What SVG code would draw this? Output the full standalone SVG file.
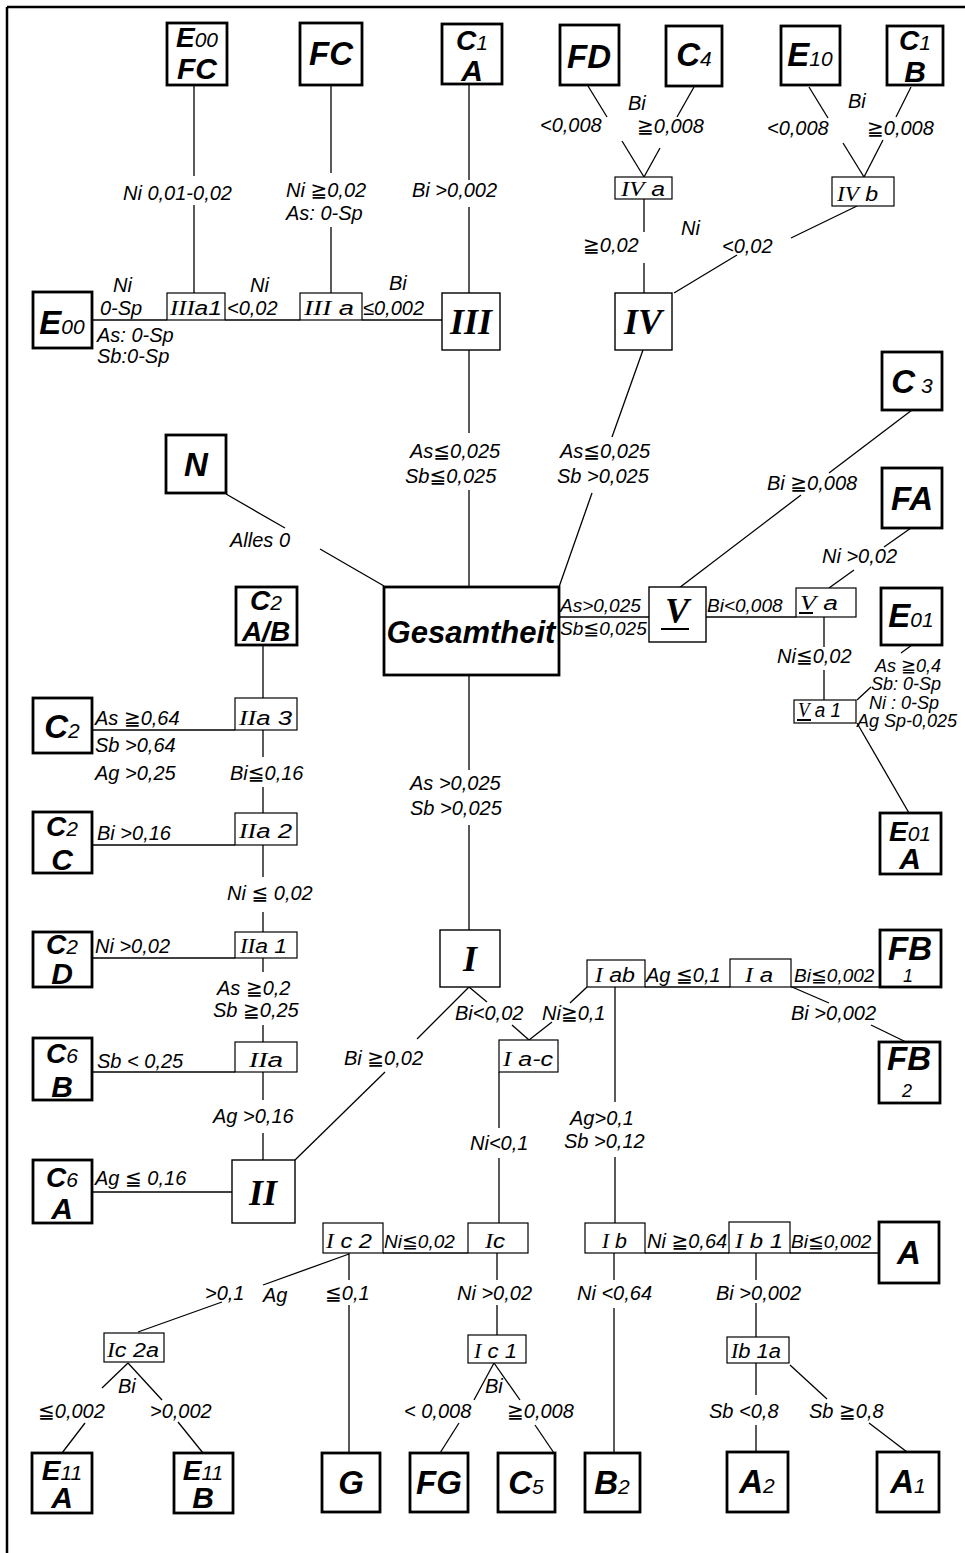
<svg xmlns="http://www.w3.org/2000/svg" width="965" height="1553" viewBox="0 0 965 1553">
<style>
.frame{stroke:#000;stroke-width:2.5;fill:none}
.t{fill:#fff;stroke:#000;stroke-width:2.8}
.m{fill:#fff;stroke:#000;stroke-width:1.4}
.s{fill:#fff;stroke:#000;stroke-width:1.2}
.c line{stroke:#000;stroke-width:1.3}
.ul{stroke:#000;stroke-width:2}
text{font-family:"Liberation Sans","DejaVu Sans",sans-serif;font-style:italic;fill:#000}
.lb{font-size:20px}
.lb2{font-size:18px}
.T1{font-size:33px;font-weight:bold;text-anchor:middle}
.T2{font-size:28px;font-weight:bold;text-anchor:middle}
.T3{font-size:30px;font-weight:bold;text-anchor:middle}
.sub{font-size:21px;font-weight:normal}
.tiny{font-size:18px;font-weight:normal}
.R{font-family:"Liberation Serif","DejaVu Serif",serif;font-weight:bold;font-size:36px;text-anchor:middle}
.G{font-size:31px;font-weight:bold;text-anchor:middle}
.sx{font-size:20px}
.r{font-family:"Liberation Serif","DejaVu Serif",serif}
</style>
<rect width="965" height="1553" fill="#fff"/>
<g id="frame">
<line class="frame" x1="7" y1="7" x2="965" y2="7"/>
<line class="frame" x1="7" y1="7" x2="7" y2="1553"/>
</g>
<g id="connectors" class="c">
<line x1="194" y1="85" x2="194" y2="176"/><line x1="194" y1="205" x2="194" y2="293"/>
<line x1="331" y1="85" x2="331" y2="173"/><line x1="331" y1="227" x2="331" y2="293"/>
<line x1="469" y1="84" x2="469" y2="180"/><line x1="469" y1="207" x2="469" y2="293"/>
<line x1="92" y1="320" x2="167" y2="320"/><line x1="225" y1="320" x2="300" y2="320"/><line x1="362" y1="320" x2="442" y2="320"/>
<line x1="588" y1="86" x2="607" y2="117"/><line x1="622" y1="141" x2="644" y2="177"/>
<line x1="694" y1="87" x2="677" y2="117"/><line x1="660" y1="148" x2="644" y2="177"/>
<line x1="809" y1="87" x2="828" y2="118"/><line x1="843" y1="143" x2="864" y2="177"/>
<line x1="911" y1="87" x2="896" y2="117"/><line x1="883" y1="140" x2="864" y2="177"/>
<line x1="644" y1="199" x2="644" y2="232"/><line x1="644" y1="263" x2="644" y2="293"/>
<line x1="857" y1="206" x2="791" y2="238"/><line x1="737" y1="255" x2="674" y2="293"/>
<line x1="469" y1="350" x2="469" y2="433"/><line x1="469" y1="490" x2="469" y2="587"/>
<line x1="643" y1="350" x2="612" y2="437"/><line x1="592" y1="493" x2="559" y2="587"/>
<line x1="226" y1="494" x2="285" y2="528"/><line x1="320" y1="549" x2="384" y2="586"/>
<line x1="559" y1="617" x2="649" y2="617"/>
<line x1="706" y1="617" x2="796" y2="617"/>
<line x1="679" y1="588" x2="801" y2="495"/><line x1="829" y1="473" x2="912" y2="410"/>
<line x1="829" y1="588" x2="854" y2="570"/><line x1="884" y1="547" x2="911" y2="528"/>
<line x1="824" y1="617" x2="824" y2="647"/><line x1="824" y1="670" x2="824" y2="700"/>
<line x1="857" y1="700" x2="871" y2="687"/><line x1="901" y1="653" x2="912" y2="645"/>
<line x1="857" y1="723" x2="909" y2="813"/>
<line x1="263" y1="645" x2="263" y2="698"/>
<line x1="92" y1="730" x2="235" y2="730"/>
<line x1="263" y1="730" x2="263" y2="757"/><line x1="263" y1="787" x2="263" y2="813"/>
<line x1="92" y1="845" x2="235" y2="845"/>
<line x1="263" y1="845" x2="263" y2="877"/><line x1="263" y1="912" x2="263" y2="932"/>
<line x1="92" y1="958" x2="235" y2="958"/>
<line x1="263" y1="958" x2="263" y2="972"/><line x1="263" y1="1025" x2="263" y2="1042"/>
<line x1="92" y1="1072" x2="235" y2="1072"/>
<line x1="263" y1="1072" x2="263" y2="1100"/><line x1="263" y1="1133" x2="263" y2="1160"/>
<line x1="92" y1="1192" x2="232" y2="1192"/>
<line x1="469" y1="675" x2="469" y2="770"/><line x1="469" y1="825" x2="469" y2="930"/>
<line x1="469" y1="987" x2="417" y2="1039"/><line x1="385" y1="1072" x2="295" y2="1160"/>
<line x1="469" y1="987" x2="487" y2="1002"/><line x1="512" y1="1025" x2="529" y2="1040"/>
<line x1="587" y1="987" x2="570" y2="1003"/><line x1="552" y1="1022" x2="529" y2="1040"/>
<line x1="645" y1="987" x2="730" y2="987"/><line x1="791" y1="987" x2="880" y2="987"/>
<line x1="792" y1="987" x2="829" y2="1003"/><line x1="871" y1="1025" x2="906" y2="1042"/>
<line x1="615" y1="987" x2="615" y2="1102"/><line x1="615" y1="1157" x2="615" y2="1223"/>
<line x1="499" y1="1072" x2="499" y2="1128"/><line x1="499" y1="1158" x2="499" y2="1223"/>
<line x1="383" y1="1253" x2="468" y2="1253"/>
<line x1="645" y1="1253" x2="729" y2="1253"/><line x1="790" y1="1253" x2="879" y2="1253"/>
<line x1="756" y1="1253" x2="756" y2="1280"/><line x1="756" y1="1303" x2="756" y2="1337"/>
<line x1="756" y1="1363" x2="756" y2="1395"/><line x1="756" y1="1425" x2="756" y2="1452"/>
<line x1="790" y1="1365" x2="827" y2="1399"/><line x1="869" y1="1423" x2="907" y2="1452"/>
<line x1="614" y1="1253" x2="614" y2="1280"/><line x1="614" y1="1308" x2="614" y2="1453"/>
<line x1="497" y1="1253" x2="497" y2="1280"/><line x1="497" y1="1305" x2="497" y2="1335"/>
<line x1="494" y1="1363" x2="474" y2="1400"/><line x1="459" y1="1423" x2="440" y2="1453"/>
<line x1="494" y1="1363" x2="520" y2="1400"/><line x1="535" y1="1425" x2="554" y2="1453"/>
<line x1="349" y1="1253" x2="349" y2="1280"/><line x1="349" y1="1305" x2="349" y2="1453"/>
<line x1="349" y1="1254" x2="263" y2="1285"/><line x1="222" y1="1302" x2="138" y2="1332"/>
<line x1="128" y1="1363" x2="102" y2="1388"/><line x1="85" y1="1423" x2="62" y2="1453"/>
<line x1="128" y1="1363" x2="162" y2="1400"/><line x1="178" y1="1422" x2="203" y2="1453"/>
</g>
<g id="edge-labels" class="lb">
<text x="123" y="200">Ni 0,01-0,02</text>
<text x="286" y="197">Ni ≧0,02</text>
<text x="286" y="220">As: 0-Sp</text>
<text x="412" y="197">Bi &gt;0,002</text>
<text x="628" y="110">Bi</text>
<text x="540" y="132">&lt;0,008</text>
<text x="637" y="133">≧0,008</text>
<text x="848" y="108">Bi</text>
<text x="767" y="135">&lt;0,008</text>
<text x="867" y="135">≧0,008</text>
<text x="583" y="252">≧0,02</text>
<text x="681" y="235">Ni</text>
<text x="722" y="253">&lt;0,02</text>
<text x="113" y="292">Ni</text>
<text x="100" y="315">0-Sp</text>
<text x="97" y="342">As: 0-Sp</text>
<text x="97" y="363">Sb:0-Sp</text>
<text x="250" y="292">Ni</text>
<text x="227" y="315">&lt;0,02</text>
<text x="389" y="290">Bi</text>
<text x="363" y="315">≤0,002</text>
<text x="410" y="458">As≦0,025</text>
<text x="405" y="483">Sb≦0,025</text>
<text x="560" y="458">As≦0,025</text>
<text x="557" y="483">Sb &gt;0,025</text>
<text x="230" y="547">Alles 0</text>
<text x="560" y="612" font-size="19">As&gt;0,025</text>
<text x="560" y="635" font-size="19">Sb≦0,025</text>
<text x="707" y="612" font-size="19">Bi&lt;0,008</text>
<text x="767" y="490">Bi ≧0,008</text>
<text x="822" y="563">Ni &gt;0,02</text>
<text x="777" y="663">Ni≦0,02</text>
<text class="lb2" x="875" y="672">As ≧0,4</text>
<text class="lb2" x="871" y="690">Sb: 0-Sp</text>
<text class="lb2" x="869" y="709">Ni : 0-Sp</text>
<text class="lb2" x="857" y="727">Ag Sp-0,025</text>
<text x="95" y="725">As ≧0,64</text>
<text x="95" y="752">Sb &gt;0,64</text>
<text x="95" y="780">Ag &gt;0,25</text>
<text x="230" y="780">Bi≦0,16</text>
<text x="97" y="840">Bi &gt;0,16</text>
<text x="227" y="900">Ni ≦ 0,02</text>
<text x="95" y="953">Ni &gt;0,02</text>
<text x="217" y="995">As ≧0,2</text>
<text x="213" y="1017">Sb ≧0,25</text>
<text x="97" y="1068">Sb &lt; 0,25</text>
<text x="213" y="1123">Ag &gt;0,16</text>
<text x="95" y="1185">Ag ≦ 0,16</text>
<text x="410" y="790">As &gt;0,025</text>
<text x="410" y="815">Sb &gt;0,025</text>
<text x="344" y="1065">Bi ≧0,02</text>
<text x="455" y="1020">Bi&lt;0,02</text>
<text x="542" y="1020">Ni≧0,1</text>
<text x="646" y="982">Ag ≦0,1</text>
<text x="794" y="982" font-size="19">Bi≦0,002</text>
<text x="791" y="1020">Bi &gt;0,002</text>
<text x="570" y="1125">Ag&gt;0,1</text>
<text x="564" y="1148">Sb &gt;0,12</text>
<text x="470" y="1150">Ni&lt;0,1</text>
<text x="384" y="1248" font-size="19">Ni≦0,02</text>
<text x="647" y="1248">Ni ≧0,64</text>
<text x="791" y="1248" font-size="19">Bi≦0,002</text>
<text x="716" y="1300">Bi &gt;0,002</text>
<text x="709" y="1418">Sb &lt;0,8</text>
<text x="809" y="1418">Sb ≧0,8</text>
<text x="577" y="1300">Ni &lt;0,64</text>
<text x="457" y="1300">Ni &gt;0,02</text>
<text x="485" y="1393">Bi</text>
<text x="404" y="1418">&lt; 0,008</text>
<text x="507" y="1418">≧0,008</text>
<text x="325" y="1300">≦0,1</text>
<text x="263" y="1302">Ag</text>
<text x="205" y="1300">&gt;0,1</text>
<text x="38" y="1418">≦0,002</text>
<text x="150" y="1418">&gt;0,002</text>
<text x="118" y="1393">Bi</text>
</g>
<g id="n-Gesamtheit"><rect class="t" x="384" y="587" width="175" height="88"/><text class="G" x="471" y="643">Gesamtheit</text></g>
<g id="n-III"><rect class="m" x="442" y="293" width="58" height="57"/><text class="R" x="471" y="334">III</text></g>
<g id="n-IV"><rect class="m" x="615" y="293" width="57" height="57"/><text class="R" x="643" y="334">IV</text></g>
<g id="n-I"><rect class="m" x="440" y="930" width="60" height="57"/><text class="R" x="470" y="971">I</text></g>
<g id="n-II"><rect class="m" x="232" y="1160" width="63" height="63"/><text class="R" x="263" y="1205">II</text></g>
<g id="n-V"><rect class="m" x="649" y="587" width="57" height="55"/><text class="R" x="677" y="623">V</text><line class="ul" x1="661" y1="629" x2="689" y2="629"/></g>
<g id="n-IIIa1"><rect class="s" x="167" y="293" width="58" height="27"/><text class="sx" x="170" y="315" textLength="52" lengthAdjust="spacingAndGlyphs"><tspan class="r">III</tspan>a1</text></g>
<g id="n-IIIa"><rect class="s" x="300" y="293" width="62" height="27"/><text class="sx" x="304" y="315" textLength="50" lengthAdjust="spacingAndGlyphs"><tspan class="r">III</tspan> a</text></g>
<g id="n-IVa"><rect class="s" x="615" y="177" width="57" height="22"/><text class="sx" x="621" y="196" textLength="44" lengthAdjust="spacingAndGlyphs"><tspan class="r">IV</tspan> a</text></g>
<g id="n-IVb"><rect class="s" x="832" y="177" width="62" height="29"/><text class="sx" x="837" y="201" textLength="41" lengthAdjust="spacingAndGlyphs"><tspan class="r">IV</tspan> b</text></g>
<g id="n-Va"><rect class="s" x="796" y="588" width="60" height="29"/><text class="sx" x="800" y="610" textLength="38" lengthAdjust="spacingAndGlyphs"><tspan class="r">V</tspan> a</text><line class="ul" x1="799" y1="613" x2="813" y2="613" stroke-width="1.5"/></g>
<g id="n-Va1"><rect class="s" x="794" y="700" width="62" height="23"/><text class="sx" x="798" y="717" textLength="43" lengthAdjust="spacingAndGlyphs"><tspan class="r">V</tspan> a 1</text><line class="ul" x1="797" y1="720" x2="811" y2="720" stroke-width="1.5"/></g>
<g id="n-IIa3"><rect class="s" x="235" y="698" width="62" height="32"/><text class="sx" x="239" y="725" textLength="53" lengthAdjust="spacingAndGlyphs"><tspan class="r">II</tspan>a 3</text></g>
<g id="n-IIa2"><rect class="s" x="235" y="813" width="62" height="32"/><text class="sx" x="239" y="838" textLength="53" lengthAdjust="spacingAndGlyphs"><tspan class="r">II</tspan>a 2</text></g>
<g id="n-IIa1"><rect class="s" x="235" y="932" width="62" height="26"/><text class="sx" x="240" y="953" textLength="47" lengthAdjust="spacingAndGlyphs"><tspan class="r">II</tspan>a 1</text></g>
<g id="n-IIa"><rect class="s" x="235" y="1042" width="62" height="30"/><text class="sx" x="249" y="1067" textLength="34" lengthAdjust="spacingAndGlyphs"><tspan class="r">II</tspan>a</text></g>
<g id="n-Iab"><rect class="s" x="587" y="960" width="58" height="27"/><text class="sx" x="595" y="982" textLength="40" lengthAdjust="spacingAndGlyphs"><tspan class="r">I</tspan> ab</text></g>
<g id="n-Ia"><rect class="s" x="730" y="959" width="61" height="28"/><text class="sx" x="745" y="982" textLength="28" lengthAdjust="spacingAndGlyphs"><tspan class="r">I</tspan> a</text></g>
<g id="n-Iac"><rect class="s" x="499" y="1040" width="59" height="32"/><text class="sx" x="503" y="1066" textLength="50" lengthAdjust="spacingAndGlyphs"><tspan class="r">I</tspan> a-c</text></g>
<g id="n-Ic2"><rect class="s" x="323" y="1223" width="60" height="30"/><text class="sx" x="326" y="1248" textLength="46" lengthAdjust="spacingAndGlyphs"><tspan class="r">I</tspan> c 2</text></g>
<g id="n-Ic"><rect class="s" x="468" y="1223" width="60" height="30"/><text class="sx" x="485" y="1248" textLength="20" lengthAdjust="spacingAndGlyphs"><tspan class="r">I</tspan>c</text></g>
<g id="n-Ib"><rect class="s" x="585" y="1223" width="60" height="30"/><text class="sx" x="602" y="1248" textLength="25" lengthAdjust="spacingAndGlyphs"><tspan class="r">I</tspan> b</text></g>
<g id="n-Ib1"><rect class="s" x="729" y="1222" width="61" height="31"/><text class="sx" x="735" y="1248" textLength="48" lengthAdjust="spacingAndGlyphs"><tspan class="r">I</tspan> b 1</text></g>
<g id="n-Ib1a"><rect class="s" x="727" y="1337" width="62" height="26"/><text class="sx" x="731" y="1358" textLength="50" lengthAdjust="spacingAndGlyphs"><tspan class="r">I</tspan>b 1a</text></g>
<g id="n-Ic1"><rect class="s" x="468" y="1335" width="58" height="28"/><text class="sx" x="474" y="1358" textLength="43" lengthAdjust="spacingAndGlyphs"><tspan class="r">I</tspan> c 1</text></g>
<g id="n-Ic2a"><rect class="s" x="104" y="1333" width="60" height="29"/><text class="sx" x="107" y="1357" textLength="52" lengthAdjust="spacingAndGlyphs"><tspan class="r">I</tspan>c 2a</text></g>
<g id="n-E00FC"><rect class="t" x="167" y="23" width="60" height="62"/><text class="T2" x="197" y="47">E<tspan class="sub">00</tspan></text><text class="T3" x="197" y="79">FC</text></g>
<g id="n-FC"><rect class="t" x="300" y="23" width="62" height="62"/><text class="T1" x="331" y="65">FC</text></g>
<g id="n-C1A"><rect class="t" x="442" y="24" width="60" height="60"/><text class="T2" x="472" y="50">C<tspan class="sub">1</tspan></text><text class="T3" x="472" y="81">A</text></g>
<g id="n-FD"><rect class="t" x="560" y="25" width="59" height="60"/><text class="T1" x="589" y="68">FD</text></g>
<g id="n-C4"><rect class="t" x="666" y="26" width="56" height="60"/><text class="T1" x="694" y="66">C<tspan class="sub">4</tspan></text></g>
<g id="n-E10"><rect class="t" x="781" y="26" width="59" height="59"/><text class="T1" x="810" y="66">E<tspan class="sub">10</tspan></text></g>
<g id="n-C1B"><rect class="t" x="887" y="26" width="56" height="59"/><text class="T2" x="915" y="50">C<tspan class="sub">1</tspan></text><text class="T3" x="915" y="82">B</text></g>
<g id="n-E00"><rect class="t" x="33" y="292" width="59" height="56"/><text class="T1" x="62" y="334">E<tspan class="sub">00</tspan></text></g>
<g id="n-N"><rect class="t" x="166" y="435" width="60" height="58"/><text class="T1" x="196" y="476">N</text></g>
<g id="n-C3"><rect class="t" x="882" y="352" width="60" height="58"/><text class="T1" x="912" y="393">C<tspan class="sub"> 3</tspan></text></g>
<g id="n-FA"><rect class="t" x="882" y="468" width="60" height="60"/><text class="T1" x="912" y="510">FA</text></g>
<g id="n-E01"><rect class="t" x="881" y="588" width="61" height="57"/><text class="T1" x="911" y="627">E<tspan class="sub">01</tspan></text></g>
<g id="n-E01A"><rect class="t" x="880" y="813" width="61" height="61"/><text class="T2" x="910" y="841">E<tspan class="sub">01</tspan></text><text class="T3" x="910" y="869">A</text></g>
<g id="n-C2AB"><rect class="t" x="236" y="587" width="61" height="58"/><text class="T2" x="266" y="610" font-size="25">C<tspan class="sub" font-size="19">2</tspan></text><text class="T2" x="266" y="641" font-size="24">A/B</text></g>
<g id="n-C2"><rect class="t" x="33" y="698" width="59" height="55"/><text class="T1" x="62" y="738">C<tspan class="sub">2</tspan></text></g>
<g id="n-C2C"><rect class="t" x="33" y="812" width="59" height="61"/><text class="T2" x="62" y="836">C<tspan class="sub">2</tspan></text><text class="T3" x="62" y="870">C</text></g>
<g id="n-C2D"><rect class="t" x="33" y="932" width="59" height="55"/><text class="T2" x="62" y="954">C<tspan class="sub">2</tspan></text><text class="T3" x="62" y="984">D</text></g>
<g id="n-C6B"><rect class="t" x="33" y="1038" width="59" height="62"/><text class="T2" x="62" y="1063">C<tspan class="sub">6</tspan></text><text class="T3" x="62" y="1097">B</text></g>
<g id="n-C6A"><rect class="t" x="33" y="1160" width="59" height="63"/><text class="T2" x="62" y="1187">C<tspan class="sub">6</tspan></text><text class="T3" x="62" y="1219">A</text></g>
<g id="n-FB1"><rect class="t" x="880" y="930" width="61" height="57"/><text class="T1" x="910" y="960">FB</text><text class="tiny" x="908" y="982" text-anchor="middle">1</text></g>
<g id="n-FB2"><rect class="t" x="879" y="1042" width="61" height="61"/><text class="T1" x="909" y="1070">FB</text><text class="tiny" x="907" y="1097" text-anchor="middle">2</text></g>
<g id="n-A"><rect class="t" x="879" y="1222" width="60" height="61"/><text class="T1" x="909" y="1264">A</text></g>
<g id="n-E11A"><rect class="t" x="32" y="1453" width="60" height="60"/><text class="T2" x="62" y="1480">E<tspan class="sub">11</tspan></text><text class="T3" x="62" y="1508">A</text></g>
<g id="n-E11B"><rect class="t" x="174" y="1453" width="59" height="60"/><text class="T2" x="203" y="1480">E<tspan class="sub">11</tspan></text><text class="T3" x="203" y="1508">B</text></g>
<g id="n-G"><rect class="t" x="322" y="1453" width="58" height="59"/><text class="T1" x="351" y="1494">G</text></g>
<g id="n-FG"><rect class="t" x="410" y="1453" width="58" height="59"/><text class="T1" x="439" y="1494">FG</text></g>
<g id="n-C5"><rect class="t" x="498" y="1453" width="57" height="59"/><text class="T1" x="526" y="1494">C<tspan class="sub">5</tspan></text></g>
<g id="n-B2"><rect class="t" x="585" y="1453" width="55" height="59"/><text class="T1" x="612" y="1494">B<tspan class="sub">2</tspan></text></g>
<g id="n-A2"><rect class="t" x="727" y="1452" width="61" height="60"/><text class="T1" x="757" y="1493">A<tspan class="sub">2</tspan></text></g>
<g id="n-A1"><rect class="t" x="877" y="1452" width="62" height="60"/><text class="T1" x="908" y="1493">A<tspan class="sub">1</tspan></text></g>
</svg>
